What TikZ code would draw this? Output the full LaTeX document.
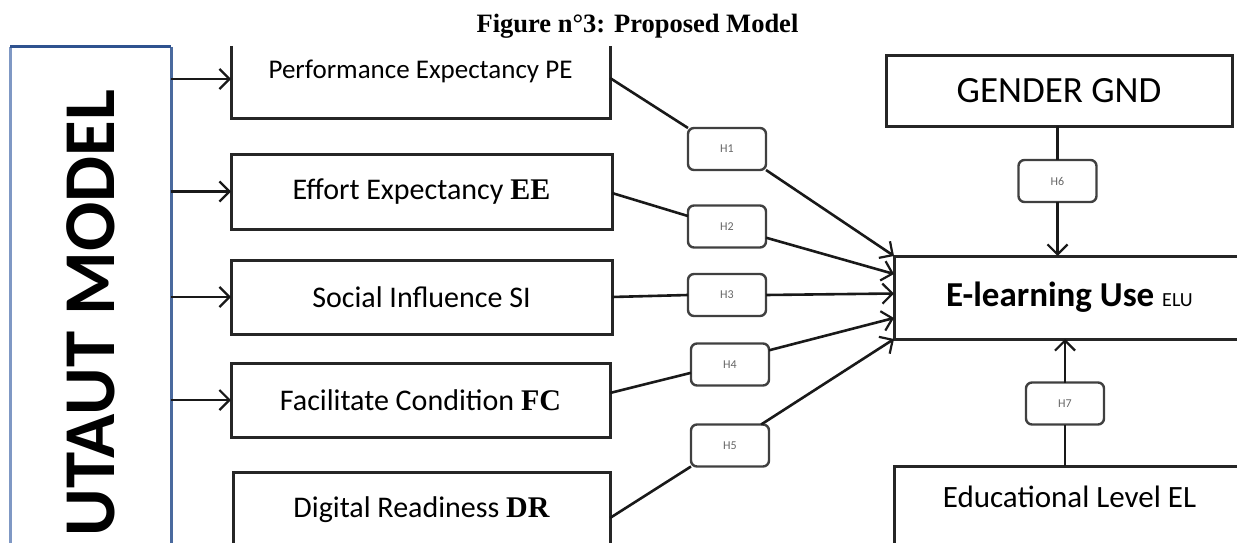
\documentclass[tikz,border=0pt]{standalone}
\usepackage{fontspec}
\setmainfont{Carlito}
\newfontfamily\tms{Liberation Serif}
\newcommand\abbr[1]{{\tms\bfseries #1}}
\usetikzlibrary{arrows.meta}
\definecolor{utdark}{RGB}{47,82,143}
\definecolor{utmid}{RGB}{74,106,158}
\definecolor{utlight}{RGB}{127,152,196}
\tikzset{
  box/.style={line width=3pt, draw=black!85, inner sep=0pt, outer sep=0pt},
  nobox/.style={inner sep=0pt, outer sep=0pt},
  hbox/.style={draw=black!75, line width=2.4pt, rounded corners=6pt, minimum width=78pt, minimum height=42pt, inner sep=0pt, outer sep=0pt, text=black!60, font=\fontsize{12}{14}\selectfont},
  ln/.style={line width=2.6pt, black!90},
  arr/.style={line width=2.6pt, black!90, -{Straight Barb[length=10pt,width=20pt,line width=2.2pt]}},
  lbl/.style={font=\fontsize{30}{34}\selectfont}
}
\begin{document}
\begin{tikzpicture}[x=1pt,y=-1pt]
\useasboundingbox (0,0) rectangle (1237,543);
\clip (0,0) rectangle (1237,543);

% title
\node[nobox, anchor=base, font=\tms\bfseries\fontsize{26.5}{30}\selectfont] (title) at (637.5,33) {Figure n°3: Proposed Model};

% UTAUT box
\node[nobox, minimum width=161pt, minimum height=532pt,
  label={[rotate=90, font=\bfseries\fontsize{73}{80}\selectfont]center:UTAUT MODEL}] (ut) at (90.5,313) {};
\draw[line width=3pt, utlight] (ut.north west) -- (ut.south west);
\draw[line width=3pt, utmid] (ut.north east) -- (ut.south east);
\draw[line width=3pt, utdark] (ut.north west) -- (ut.north east);

% construct boxes
\node[nobox, minimum width=379pt, minimum height=94pt, font=\fontsize{27}{30}\selectfont] (pe) at (420.5,71) {Performance Expectancy PE};
\coordinate (cut) at (0,46);
\draw[line width=3pt, black!85] (pe.south west |- cut) -- (pe.south west) -- (pe.south east) -- (pe.south east |- cut);
\node[box, lbl, minimum width=381pt, minimum height=75pt] (ee) at (421.5,191.5) {Effort Expectancy \abbr{EE}};
\node[box, lbl, minimum width=381pt, minimum height=74pt] (si) at (421.5,297) {Social Influence SI};
\node[box, lbl, minimum width=379pt, minimum height=74pt] (fc) at (420.5,400) {Facilitate Condition \abbr{FC}};
\node[box, lbl, minimum width=377pt, minimum height=76pt] (dr) at (421.5,510) {Digital Readiness \abbr{DR}};

% right boxes
\node[box, minimum width=346pt, minimum height=70pt, font=\fontsize{37}{42}\selectfont] (gnd) at (1059,91) {GENDER GND};
\node[box, minimum width=351pt, minimum height=83pt, font=\bfseries\fontsize{35}{40}\selectfont] (elu) at (1069.5,297.5) {E-learning Use {\fontsize{20}{24}\selectfont\mdseries ELU}};
\node[box, minimum width=351pt, minimum height=100pt,
  label={[nobox, anchor=center, yshift=-31pt, font=\fontsize{31}{35}\selectfont]north:Educational Level EL}] (el) at (1069.5,516) {};

% hypothesis boxes
\node[hbox] (h1) at (727,149) {H1};
\node[hbox] (h2) at (727,226.5) {H2};
\node[hbox] (h3) at (727,295) {H3};
\node[hbox] (h4) at (730,364.5) {H4};
\node[hbox] (h5) at (730,445.5) {H5};
\node[hbox] (h6) at (1057.5,181) {H6};
\node[hbox] (h7) at (1065,403.5) {H7};

% UTAUT arrows
\coordinate (pein) at ([yshift=-8pt]pe.west);
\draw[arr] (ut.east |- pein) -- (pein);
\draw[arr] (ut.east |- ee.west) -- (ee.west);
\draw[arr] (ut.east |- si.west) -- (si.west);
\draw[arr] (ut.east |- fc.west) -- (fc.west);

% hypothesis paths
\draw[ln] ([yshift=-7pt]pe.east) -- (h1.north west);
\draw[arr] (h1.south east) -- (elu.north west);
\draw[ln] ([yshift=-1.5pt]ee.east) -- (h2.165);
\draw[arr] (h2.-16) -- ([yshift=23.5pt]elu.west);
\draw[ln] (si.east) -- (h3.west);
\draw[arr] (h3.east) -- ([yshift=4pt]elu.west);
\draw[ln] ([yshift=7pt]fc.east) -- (h4.192);
\draw[arr] (h4.20) -- ([yshift=-20.5pt]elu.west);
\draw[ln] ([yshift=-8pt]dr.east) -- (h5.south west);
\draw[arr] (h5.34) -- (elu.south west);
\draw[ln] (gnd.south -| h6.north) -- (h6.north);
\draw[arr] (h6.south) -- (h6.south |- elu.north);
\draw[ln] (el.north -| h7.south) -- (h7.south);
\draw[arr] (h7.north) -- (h7.north |- elu.south);
\end{tikzpicture}
\end{document}
